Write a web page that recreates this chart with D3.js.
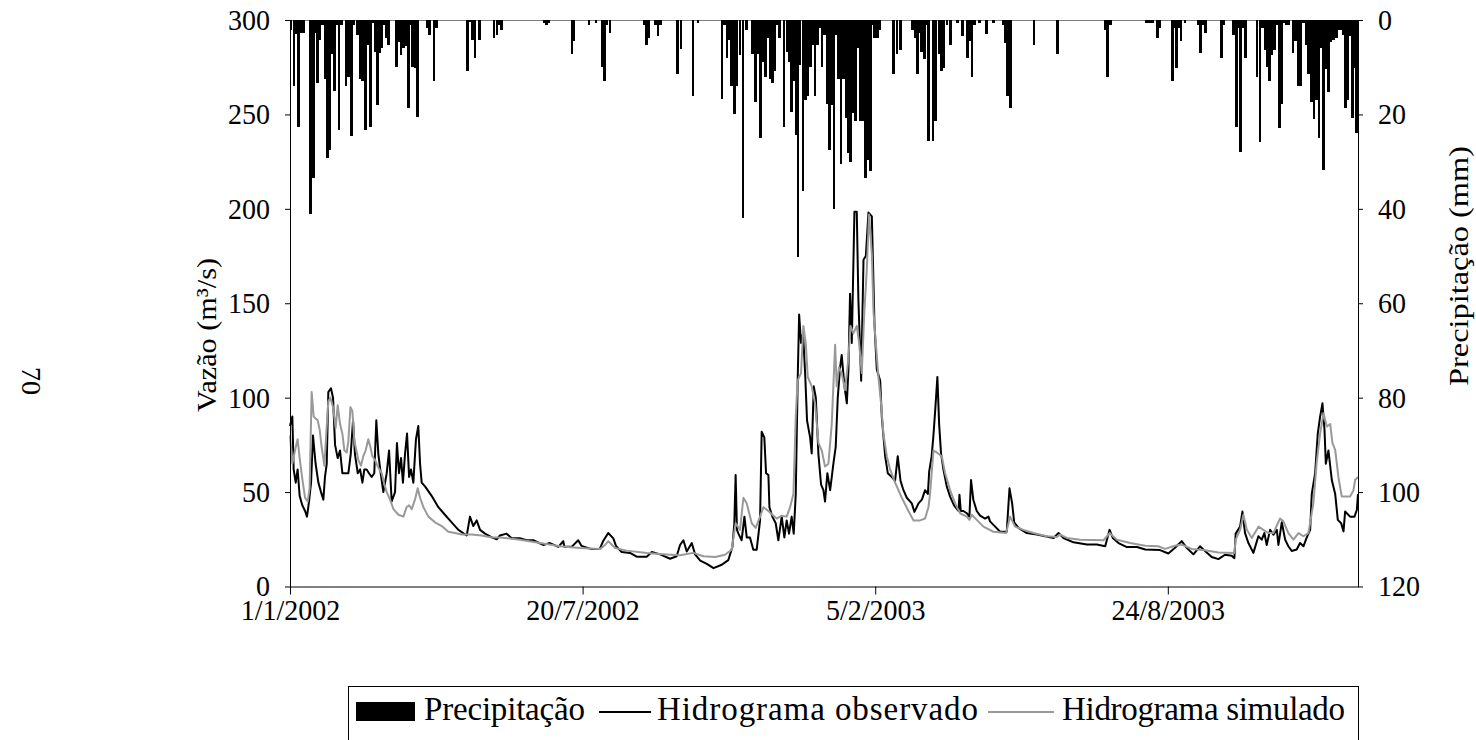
<!DOCTYPE html>
<html><head><meta charset="utf-8">
<script src="https://cdn.jsdelivr.net/npm/d3@7"></script>
<style>body{margin:0;background:#fff}svg{display:block}text{font-family:"Liberation Serif","Times New Roman",serif;fill:#000}</style>
</head><body><svg id="c" width="1476" height="740"></svg>
<script>
// ---- data ----
const xTickDays = [0, 200, 400, 600];
const xTickLabels = ["1/1/2002", "20/7/2002", "5/2/2003", "24/8/2003"];
const flowTicks = [0, 50, 100, 150, 200, 250, 300];
const rainTicks = [0, 20, 40, 60, 80, 100, 120];
const seriesNames = ["Precipitação", "Hidrograma observado", "Hidrograma simulado"];
const pageNumber = "70";

// precipitation [day since 1/1/2002, mm]
const rainfall = [[0.7,2.1],[2.7,14],[4.1,3],[5.7,22.6],[7.3,2.8],[8.4,2.8],[9.5,2.8],[13.9,41.2],[16,33.5],[17.3,2.8],[18.7,13.4],[20.5,4.2],[22.3,1.1],[23.9,12.4],[25.5,29.2],[27.1,27.5],[28.7,7.1],[30.3,15],[31.9,1.1],[33.5,23.4],[35.3,1.1],[38.3,13.9],[40.1,12],[41.9,24.5],[43.7,1.1],[46.2,3.2],[48.1,12.4],[49.7,12.9],[51.5,23.4],[53.1,5.3],[54.9,22.6],[56.5,0.7],[58.1,6.7],[59.7,18],[61.3,6.9],[62.9,5.9],[64.5,1.1],[65.6,3.9],[67.4,5.3],[72.7,9.9],[74.3,4.6],[75.9,7.4],[77.5,6],[79.1,5.6],[80.9,18.6],[82.5,1.1],[83.8,9.9],[85.4,10.2],[87,20.5],[93.6,1.8],[95.2,3.2],[98.6,12.9],[100,1.8],[121.2,10.9],[123,0.5],[124.6,4.2],[126.4,8],[129.4,4.2],[139.6,3.9],[141.5,3.2],[143.1,1.1],
[144.6,2.1],[173.5,0.7],[175.2,1.1],[176.9,0.7],[192.8,7.3],[194.2,4.5],[204.5,1.1],[209.1,0.7],[213.3,9.9],[215,12.9],[216.4,1],[218.9,2.8],[242.1,1],[243.7,5.4],[245.1,3.8],[249.7,1],[251.5,3.4],[253.3,1],[264.9,11.4],[267.4,6.2],[275.6,16],[279,0.7],
[295.3,16.8],[297.1,1],[298.7,8],[300.3,4.2],[301.9,13.9],[303.7,20],[305.5,13.9],[307.6,7.4],[309.6,42],[311.9,2.1],[316,7.1],[318.1,17.4],[319.7,7.1],[321.5,25.1],[323.1,8.8],[324.9,12],[326.5,3.9],[328.1,12.4],[329.7,13.4],[331.5,10.9],[333.1,1],[334.5,3.9],[337.7,22.6],[339.7,6.7],[341.3,8.8],[342.9,19.4],[344.3,13],[345.9,24.4],[347.2,50.3],[348.6,9.5],[350.6,36.2],[352.2,17],[354.1,16],[355.7,9.9],[357.2,5.4],[358.8,16],[360.4,5.3],[362,1.8],[363.6,9.9],[365.2,3.2],[367,17.7],[368.6,27.5],[370.2,18],[371.8,40],[373.4,3.2],[375,12.4],[376.6,30.6],[378.4,12.4],[380,20.8],[381.6,28.2],[383,30],[384.6,19.8],[386.4,21.5],[388,5.9],[389.8,21.5],[391.4,21.5],[393.2,33.5],[394.8,29.7],[396.7,32],[398.2,1],[399.5,3.8],[400.5,3.8],[401.5,3.8],[402.8,2.1],[412.4,11.4],[414.9,7.3],[417.2,6.3],[425.4,2.1],[427.2,3.9],[428.8,11.4],[430.1,2.8],[431.7,6.7],[433.6,8.3],[435.2,1],[436.5,25.6],
[439.4,25.6],[441.1,21.5],[443.7,7.1],[445.2,10.9],[446.8,10.2],[448.9,1],[451.4,5.4],[456.2,0.7],[459.6,3.4],[463,8],[464.8,4.4],[466.2,12],[468,1],[471.2,0.7],[476,2.9],[480.8,0.7],[487.4,1],[489,4.8],[490.4,16],[492.4,18.6],[508.6,5.4],[524.5,7.3],[557.3,2.2],[558.9,12],[560.7,1],
[585.5,0.7],[587.5,0.7],[589.5,0.7],[592.8,3.8],[594.7,1.8],[603.1,12.9],[604.4,1.8],[605.8,10.2],[607.4,1.8],[609,4.4],[611.7,0.7],[620.9,1],[622.2,6.9],[624,1],[625.6,2.8],[636.6,8],[638.2,1],[645,3.2],[646.8,22.6],[648.2,1.8],[649.6,28],[651.1,1.8],[653,8],[660.9,12],[663,25.9],[664.8,1.8],[666.4,6.3],[667.8,9.9],[669.4,12.9],[671,7.4],[672.8,6.3],[674.6,1],[676.4,22.9],[678,17.7],[679.4,0.7],[681,1],[683,1],[685.5,6.9],[687.4,4.4],[689.2,13.9],[691,13.9],[692.8,0.7],[694.4,5.4],[696.2,11.4],[698.1,17.4],[699.9,21],[701.5,17],[703.3,25.1],[704.9,6],[706.5,31.7],[708.3,10.3],[709.9,15.3],[711.7,4.6],[713.3,4.2],[715.2,3.9],[717,2.1],[718.6,2.1],[719.9,3.2],[721.5,18.6],[723.1,17],[724.5,3.4],[726.1,20.8],[727.7,10.2],[729.1,24]];

// observed hydrograph [day, m3/s]
const observed = [[0,85],[1.6,90],[2.5,62],[3.9,55],[5.2,62],[6.6,48],[8.4,43],[10.3,40],[11.6,37],[13,45],[14.4,55],[15.7,80],[17.5,65],[19.4,55],[21.2,50],[22.8,46],[23.9,58],[25.1,65],[26.2,103],[28,105],[29.4,100],[30.8,75],[32.6,68],[34.2,72],[35.8,60],[37.6,60],[39.9,60],[41.5,70],[43.1,88],[44.4,70],[46.3,60],[47.9,62],[49.5,55],[50.8,62],[52.4,62],[54,60],[55.8,58],[57.6,60],[59,88],[60.4,70],[62,60],[63.8,50],[66.1,60],[67.7,72],[69.5,45],[71.8,50],[73.1,76],[74.5,60],[75.9,68],[77.2,55],[78.6,70],[80,81],[81.4,58],[82.7,62],[84.3,55],[86.1,78],[87.7,85],[88.9,65],[90,55],[92.3,53],[96.8,48],[101.4,42],[105.9,38],[110.5,34],[115.1,30],[120.8,27],[123,37],[125.3,32],[127.6,35],[129.9,30],[133.3,28],[137.9,26],[141.3,25],[143.5,27],
[148,28],[151.5,25.6],[157,25.6],[161.8,24.5],[166.3,24.5],[173,22],[177.7,23],[183.4,21],[186.8,24],[187.5,21],[192.5,21],[197,24.5],[199.3,21.5],[206,19.8],[211.7,19.8],[214,24],[217.5,28.3],[221,25.5],[222.8,21.5],[226.7,18.3],[232.4,17.8],[237,15.8],[243.8,15.8],[247.3,18.3],[253,17],[259.8,14.7],[264.3,16],[266.6,22],[268.9,24.5],[271.2,18.5],[274.6,23],[276.9,17],[280.4,13.7],[284.9,12],[289.5,9.7],
[295.1,11.5],[299.6,14],[302.4,21],[303.7,33.5],[304.6,59],[305.5,30],[306.5,28],[308.7,24.5],[310.6,37],[312.2,26],[314.4,26],[316.7,19.5],[319,19.5],[321.3,35],[322.4,82],[324.2,79],[325.4,60],[327,59],[327.7,42],[329.7,37],[332,33.5],[333.8,24.5],[336.1,37],[337.9,26],[339.5,35],[341.1,28],[342.9,37],[344.3,28],[345.7,49],[347,109],[348,144],[349.3,129],[350.7,134],[352.1,113],[353.4,88],[355.5,79],[356.6,70.5],[358,106],[359.4,100],[361.2,70],[363,54],[364.6,51],[365.7,45],[367.3,60],[369.2,51],[371.4,65],[373,74],[374.4,100],[376,116],[377.1,122.6],[379,106],[380.6,97],[381.7,115],[382.8,155],[384,129],[385.8,198.5],[387.4,198.5],[388.5,152],[390.4,109],[392,173],[393.6,175],[395.4,198],[397.7,196],[399.5,139],[401.1,115],[403.4,109],[404.5,90],[406.8,69],[408.6,60],[411.3,58],[413.6,56],[415.4,69],[417.3,56],[419.3,51],[421.6,47],[425,44],[426.8,39.5],[429.6,44],[431.9,46],[434.1,51],[436,49],[436.9,61],
[438.6,69],[439.8,80],[440.9,92],[442.5,111],[443.7,86],[445,70.5],[446.6,62],[448.9,53],[451.2,47.6],[453.9,43],[456.9,40],[457.6,48.6],[458.5,40],[460.3,40],[462.6,38.8],[464.4,37],[465.5,56.4],[467.1,45.8],[469.4,40],[471.7,37.5],[475.1,36],[477.4,37],[478.5,34.5],[482,31.7],[485.4,29],[489.9,29],[491.8,52],[493.6,44],[495,34],[497.9,31],[503.6,28.3],[510.5,27.5],[516.2,26.6],[521.9,25.7],[525.3,28.3],[528.7,25.7],[535.5,23.4],[544.7,22.2],[551.5,22.2],[557.2,21.3],[560.2,30],[562.4,25.7],[566.3,23],[572,20.9],[578.9,20.9],[584.6,19.6],
[594.7,19.3],[600.4,17.5],[604.9,20.5],[609.5,24],[612.9,20.5],[617.5,17],[622,21.3],[624.3,19.6],[630,15.6],[634.6,14.5],[639.1,16.8],[643.7,16.3],[645.5,15],[646.4,28],[649.4,31.7],[651,39.7],[652.8,28.3],[655.1,23],[658.5,17.8],[661.9,26.6],[664.2,24.8],[666,28.3],[667.6,22],[669.9,30],[672.2,27.5],[674.5,30],[675.6,22],[677.9,34],[680.2,24.8],[682.4,21.3],[684.7,18.8],[688.1,19.6],[690.4,23],[692.7,21.3],[695,26],[697.3,30],[698.4,49],[700.7,60],[702.5,81],[704.1,90],[705.7,97],[707.1,83],[708,65],[709.8,72],[712.1,56.4],[714.4,49],[716.2,35.3],[718.5,33.5],[720.1,29.2],[721.2,39.7],[724.6,37],[727.6,37],[729.2,40.5],[730,49]];

// simulated hydrograph [day, m3/s]
const simulated = [[0,80],[1.6,65],[3.4,72],[5.2,78],[6.6,68],[8.4,57],[10.3,47],[12.1,45],[13.4,52],[14.8,103],[16.2,90],[17.5,89],[18.9,88],[20.3,83],[21.6,74],[23.5,64],[24.8,81],[26.2,98],[27.6,100],[29.4,95],[31.2,84],[32.6,96],[34.2,86],[35.8,81],[37.2,72],[38.8,71],[39.9,77],[41.3,95],[42.6,93],[44,77],[45.4,72],[46.7,67],[48.5,64],[50.1,69],[51.7,72],[53.5,78],[54.9,74],[56.3,69],[58.1,67],[60.4,63],[62.7,60],[64.5,54],[66.1,50],[68.4,46],[70.7,41],[74.1,38],[77.5,37],[79.7,42],[81.4,43],[83.2,41],[85.4,46],[87.3,52],[88.9,47],[91.2,42],[94.6,37],[99.1,34],[103.7,32],[108.2,29],[112.8,28.3],[117.3,27.5],[124.2,27.5],[131,27],[137.9,26],[143.5,26],
[157.2,24.8],[170.9,23],[184.5,21.3],[198.2,20.4],[211.9,19.8],[215.3,22],[217.6,24],[222.2,20.4],[230.1,19],[243.8,17.8],[257.5,17],[266.6,16.5],[275.7,17.8],[282.6,16],[290.6,15.6],
[297.3,16.8],[301.9,19.5],[304.6,33.5],[307.6,30],[309.9,47],[312.2,44],[315.6,33.5],[318.3,31],[321.3,37],[323.6,42],[327,40],[329.7,38],[332.7,36],[336.1,37.5],[339.5,37],[341.8,42],[344.1,49],[345.7,90],[347,109],[349.3,113],[350.9,138],[352.5,129],[353.9,111],[356.6,106],[358.9,97],[361.2,76],[363.5,72],[365.7,63.5],[368,65],[370.3,86],[372.6,128],[373.7,106],[375.3,116],[377.1,113],[379.4,104],[381.7,121],[383.1,138],[385.1,134],[387.4,138],[389,129],[390.8,113],[392.6,146],[394.2,167],[395.8,197],[397.7,176],[398.8,146],[400.4,129],[402.2,111],[404,97],[405.6,81],[407.9,69],[410.2,62],[413.6,55],[418.2,47],[422.7,40],[426.2,35],[430.7,35],[434.1,36],[436.4,42],
[437.5,49],[439.8,72],[442.1,71],[445.5,69],[447.8,60],[451.2,51],[454.6,44],[458,38.8],[462.6,37],[464.4,35.3],[466,38],[469.4,35.3],[474,31.7],[480.8,29],[489.5,28.3],[492.2,37],[495.6,31.7],[501.3,30],[508.2,28.3],[517.3,26.6],[524.1,26.2],[526.4,27.5],[531,25.7],[540.1,24.8],[556.1,24.5],[560.2,28.3],[565.2,24.8],[574.3,23],[584.6,21.6],
[593.5,21.3],[598.1,19.9],[604.9,21.6],[609.5,22.2],[616.3,19.9],[625.4,19.2],[634.6,18],[645.5,17.8],[646.4,24.8],[649.4,30],[651.7,38],[654,30],[657.4,25.7],[662,31.7],[665.3,30],[668.8,28.3],[672.2,28.3],[676.7,36],[679,34.5],[682.4,28.3],[685.9,24.8],[689.3,28.3],[692.7,26.6],[696.1,28.3],[699.5,44],[701.8,66],[704.1,81],[706.4,91.7],[708.7,84.7],[711,86],[712.5,76],[714.4,72.3],[716.6,58],[718.9,47.6],[721.2,47.6],[724.6,47.6],[726.9,51],[728,56.4],[730,58]];

// ---- drawing ----
const svg = d3.select("#c");
const L = 290, R = 1358, T = 20, B = 586.5;
const FW = 28, FH = 29.5;   // glyph width-equivalent / height-equivalent font sizes
const x = d3.scaleLinear().domain([0, 730]).range([L, R]);
const yL = d3.scaleLinear().domain([0, 300]).range([B, T]);
const yR = d3.scaleLinear().domain([0, 120]).range([T, B]);

// render text at font-size fh but with the horizontal extent it has at fw (or a given length)
function fit(sel, fw, fh, len) {
  sel.each(function () {
    const t = d3.select(this);
    t.style("font-size", fw + "px");
    const w = len || this.getComputedTextLength();
    t.style("font-size", fh + "px").attr("textLength", w).attr("lengthAdjust", "spacingAndGlyphs");
  });
}
// legend text: natural glyphs, letter gaps adjusted to the measured length
function legendText(g, px, py, str, len) {
  g.append("text").attr("x", px).attr("y", py)
    .style("font-size", "33px").attr("textLength", len).attr("lengthAdjust", "spacing").text(str);
}

// top border
svg.append("line").attr("x1", L).attr("x2", R).attr("y1", T + 0.5).attr("y2", T + 0.5)
  .attr("stroke", "#808080").attr("stroke-width", 1);

// precipitation bars
const bw = x(1.7) - x(0);
svg.append("g").selectAll("rect").data(rainfall).join("rect")
  .attr("x", d => x(d[0]) - bw / 2).attr("width", bw)
  .attr("y", yR(0)).attr("height", d => yR(d[1]) - yR(0))
  .attr("fill", "#000").attr("shape-rendering", "crispEdges");

// lines
const line = d3.line().x(d => x(d[0])).y(d => yL(d[1]));
svg.append("path").datum(observed).attr("d", line).attr("fill", "none")
  .attr("stroke", "#000").attr("stroke-width", 2).attr("stroke-linejoin", "round");
svg.append("path").datum(simulated).attr("d", line).attr("fill", "none")
  .attr("stroke", "#999").attr("stroke-width", 2).attr("stroke-linejoin", "round");

function styleAxis(g) {
  g.attr("font-family", null).attr("font-size", null);
  g.selectAll("line,path").attr("stroke", "#000");
  g.selectAll("text").attr("fill", "#000").style("font-family", '"Liberation Serif", serif').call(fit, FW, FH);
}
// left axis
svg.append("g").attr("transform", `translate(${L},0)`)
  .call(d3.axisLeft(yL).tickValues(flowTicks).tickSize(5).tickSizeOuter(0).tickPadding(15))
  .call(styleAxis);
// right axis
svg.append("g").attr("transform", `translate(${R},0)`)
  .call(d3.axisRight(yR).tickValues(rainTicks).tickSize(5).tickSizeOuter(0).tickPadding(15))
  .call(styleAxis);
// bottom axis
svg.append("g").attr("transform", `translate(0,${B})`)
  .call(d3.axisBottom(x).tickValues(xTickDays).tickFormat((d, i) => xTickLabels[i]).tickSize(8).tickSizeOuter(0).tickPadding(5))
  .call(styleAxis);

// axis titles
svg.append("text").attr("transform", "translate(216,335) rotate(-90)").attr("text-anchor", "middle")
  .text("Vazão (m³/s)").call(fit, 0, 28, 154);
svg.append("text").attr("transform", "translate(1468,266) rotate(-90)").attr("text-anchor", "middle")
  .text("Precipitação (mm)").call(fit, 0, 28, 240);

// page number
svg.append("text").attr("transform", "translate(22,381) rotate(90)").attr("text-anchor", "middle")
  .text(pageNumber).call(fit, 0, 27, 28);

// legend (box runs past the bottom edge of the picture)
const lg = svg.append("g");
lg.append("rect").attr("x", 348.5).attr("y", 686.5).attr("width", 1010).attr("height", 70)
  .attr("fill", "#fff").attr("stroke", "#000");
lg.append("rect").attr("x", 356).attr("y", 702).attr("width", 59).attr("height", 19).attr("fill", "#000");
legendText(lg, 424, 720, seriesNames[0], 161);
lg.append("line").attr("x1", 599).attr("x2", 651).attr("y1", 712).attr("y2", 712).attr("stroke", "#000").attr("stroke-width", 2);
legendText(lg, 657, 720, seriesNames[1], 321);
lg.append("line").attr("x1", 988).attr("x2", 1054).attr("y1", 712).attr("y2", 712).attr("stroke", "#999").attr("stroke-width", 2);
legendText(lg, 1062, 720, seriesNames[2], 283);
</script></body></html>
